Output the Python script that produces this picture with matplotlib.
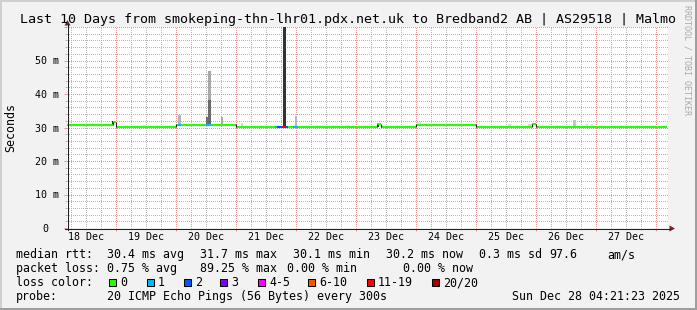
import numpy as np
import pandas as pd
import matplotlib
matplotlib.use("Agg")
import matplotlib.pyplot as plt
import matplotlib.dates as mdates
from matplotlib.ticker import MultipleLocator
from matplotlib.patches import Rectangle, Polygon
from matplotlib.lines import Line2D
from matplotlib.transforms import IdentityTransform

W, H = 697, 310
MONO = "DejaVu Sans Mono"

# rrdtool default colours
BACK = "#f2f2f2"
SHADE_A = "#cfcfcf"
SHADE_B = "#9e9e9e"
GRID = "#b8b8b8"
MGRID = "#eb9696"
ARROW = "#801f1f"
AXIS = "#1f1f1f"

title = "Last 10 Days from smokeping-thn-lhr01.pdx.net.uk to Bredband2 AB | AS29518 | Malmo"
t_start = "2025-12-18 04:21"
t_end = "2025-12-28 04:21"

# median rtt in ms, held from each time until the next one
median_times = ["2025-12-18 04:21", "2025-12-18 22:35", "2025-12-19 00:00",
                "2025-12-20 00:00", "2025-12-21 00:00", "2025-12-23 08:21",
                "2025-12-23 09:50", "2025-12-24 00:00", "2025-12-25 00:00",
                "2025-12-25 22:21", "2025-12-25 23:50"]
median_ms = [30.8, 31.6, 30.2, 30.8, 30.2, 30.9, 30.2, 30.8, 30.2, 30.9, 30.2]

loss_labels = ["0", "1", "2", "3", "4-5", "6-10", "11-19", "20/20"]
loss_colors = ["#26ff00", "#00b8ff", "#0059ff", "#7e00ff", "#ff00ff",
               "#ff5500", "#ff0000", "#a10000"]

# stretches of the median line with packet loss (index into loss_labels)
loss_from = ["2025-12-20 00:38", "2025-12-20 11:57", "2025-12-21 15:33",
             "2025-12-21 16:27", "2025-12-21 17:51", "2025-12-21 19:57",
             "2025-12-21 22:45"]
loss_to = ["2025-12-20 01:57", "2025-12-20 13:57", "2025-12-21 16:27",
           "2025-12-21 17:51", "2025-12-21 19:57", "2025-12-21 20:50",
           "2025-12-22 00:45"]
loss_idx = [1, 1, 1, 2, 6, 2, 1]

# smoke (spread of the 20 pings)
smoke_from = ["2025-12-18 14:14", "2025-12-18 22:15", "2025-12-19 10:39",
              "2025-12-20 00:38", "2025-12-20 11:57", "2025-12-20 12:45",
              "2025-12-20 12:45", "2025-12-20 17:51", "2025-12-21 01:51",
              "2025-12-21 18:39", "2025-12-21 23:39", "2025-12-22 19:57",
              "2025-12-23 08:21", "2025-12-24 00:21", "2025-12-25 01:51",
              "2025-12-25 12:45", "2025-12-25 20:45", "2025-12-25 22:21",
              "2025-12-26 14:45", "2025-12-26 19:57", "2025-12-26 21:51",
              "2025-12-27 01:51"]
smoke_to = ["2025-12-18 14:53", "2025-12-18 22:35", "2025-12-19 11:33",
            "2025-12-20 01:57", "2025-12-20 12:45", "2025-12-20 13:57",
            "2025-12-20 13:57", "2025-12-20 18:39", "2025-12-21 02:39",
            "2025-12-21 19:57", "2025-12-22 00:33", "2025-12-22 21:09",
            "2025-12-23 09:02", "2025-12-24 01:50", "2025-12-25 02:39",
            "2025-12-25 13:50", "2025-12-25 22:21", "2025-12-25 22:53",
            "2025-12-26 15:57", "2025-12-26 20:45", "2025-12-26 22:39",
            "2025-12-27 02:39"]
smoke_lo = [30.8, 30.8, 30.2, 30.8, 30.8, 30.8, 38.2, 30.8, 30.2, 30.2, 30.2,
            30.2, 30.2, 30.8, 30.2, 30.2, 30.2, 30.2, 30.2, 30.2, 30.2, 30.2]
smoke_hi = [31.2, 31.9, 30.7, 33.7, 33.2, 38.2, 46.9, 33.2, 31.4, 61.0, 33.4,
            30.6, 31.0, 31.5, 30.6, 30.9, 30.9, 31.0, 32.2, 30.9, 30.9, 30.6]
smoke_shade = ["#dcdcdc", "#303030", "#e0e0e0", "#b4b4b4", "#707070", "#6a6a6a",
               "#a8a8a8", "#a8a8a8", "#d4d4d4", "#333333", "#b8b8b8", "#e4e4e4",
               "#303030", "#e0e0e0", "#e8e8e8", "#d8d8d8", "#d8d8d8", "#303030",
               "#c4c4c4", "#e0e0e0", "#e0e0e0", "#e8e8e8"]

y_ticks = [0, 10, 20, 30, 40, 50]
y_tick_labels = ["0", "10 m", "20 m", "30 m", "40 m", "50 m"]
day_labels = ["18 Dec", "19 Dec", "20 Dec", "21 Dec", "22 Dec",
              "23 Dec", "24 Dec", "25 Dec", "26 Dec", "27 Dec"]

rtt_name = "median rtt:"
rtt_stats = ["30.4 ms avg", "31.7 ms max", "30.1 ms min", "30.2 ms now",
             "0.3 ms sd", "97.6", "am/s"]
loss_name = "packet loss:"
loss_stats = ["0.75 % avg", "89.25 % max", "0.00 % min", "0.00 % now"]
color_name = "loss color:"
probe_name = "probe:"
probe_text = "20 ICMP Echo Pings (56 Bytes) every 300s"
stamp = "Sun Dec 28 04:21:23 2025"
watermark = "RRDTOOL / TOBI OETIKER"

# layout (pixels from top-left)
rtt_cols = [107, 200, 293, 386, 479, 549, 607]
loss_cols = [107, 200, 287, 403]
box_cols = [108, 146, 183, 219, 257, 307, 366, 431]
PL, PR, PT, PB = 67, 667, 27, 228


def tnum(v):
    return mdates.date2num(pd.to_datetime(v))


def px(x, y):
    return x, H - y


fig = plt.figure(figsize=(W / 100, H / 100), dpi=100, facecolor=BACK)
ax = fig.add_axes([PL / W, (H - PB) / H, (PR + 1 - PL) / W, (PB - PT) / H])
ax.set_facecolor("white")
ax.set_xlim(tnum(t_start), tnum(t_end) + 1 / 60)
ax.set_ylim(0, 60)
for s in ax.spines.values():
    s.set_visible(False)

ax.xaxis.set_major_locator(mdates.DayLocator())
ax.xaxis.set_minor_locator(mdates.HourLocator(byhour=[6, 12, 18]))
ax.yaxis.set_major_locator(MultipleLocator(10))
ax.yaxis.set_minor_locator(MultipleLocator(2))
ax.tick_params(which="both", labelbottom=False, labelleft=False, direction="out")
ax.tick_params(which="major", length=2.2, width=0.72, color=MGRID)
ax.tick_params(which="minor", length=1.5, width=0.72, color=GRID)
ax.set_axisbelow(True)
# 1px on / 1px off dots, offset so dashes land on whole pixels
ax.grid(which="major", color=MGRID, lw=0.72, ls=(0.5, (1, 1)))
ax.grid(which="minor", color=GRID, lw=0.72, ls=(0.5, (1, 1)))

# smoke
sx0 = tnum(smoke_from)
sx1 = tnum(smoke_to)
ax.bar(sx0, np.array(smoke_hi) - np.array(smoke_lo), width=sx1 - sx0,
       bottom=smoke_lo, align="edge", color=smoke_shade, linewidth=0, zorder=2)

# median line
mx = tnum(median_times)
mx_end = np.append(mx[1:], tnum(t_end))
ax.hlines(median_ms, mx, mx_end, color=loss_colors[0], lw=1.5, zorder=3)
for i in range(1, len(mx)):
    lo, hi = sorted((median_ms[i - 1], median_ms[i]))
    ax.vlines(mx[i], lo - 0.15, hi + 0.15, color="#202020", lw=0.8, zorder=4)

lx0 = tnum(loss_from)
lx1 = tnum(loss_to)
for a, b, k in zip(lx0, lx1, loss_idx):
    j = np.searchsorted(mx, (a + b) / 2, side="right") - 1
    ax.hlines(median_ms[j], a, b, color=loss_colors[k], lw=1.5, zorder=4)

# tick labels
for v, lab in zip(y_ticks, y_tick_labels):
    xr = -(PL - 59) / (PR - PL) if lab != "0" else -(PL - 48) / (PR - PL)
    ax.text(xr, v, lab, transform=ax.get_yaxis_transform(), ha="right",
            va="center_baseline", fontsize=7.2, family=MONO, clip_on=False)
noons = pd.date_range("2025-12-18 12:00", periods=len(day_labels), freq="D")
for d, lab in zip(tnum(noons), day_labels):
    ax.text(d, (PB - 240.5) / (PB - PT), lab, transform=ax.get_xaxis_transform(),
            ha="center", va="baseline", fontsize=7.2, family=MONO, clip_on=False)

# axes with arrows
idt = IdentityTransform()
fig.add_artist(Line2D(*zip(px(PL - 2, PB + 0.5), px(670, PB + 0.5)), color=AXIS,
                      lw=0.75, transform=idt))
fig.add_artist(Line2D(*zip(px(PL + 0.5, PB + 2), px(PL + 0.5, 24)), color=AXIS,
                      lw=0.75, transform=idt))
fig.add_artist(Polygon([px(675, PB + 0.5), px(669.5, PB - 2.5), px(669.5, PB + 3.5)],
                       closed=True, color=ARROW, lw=0, transform=idt))
fig.add_artist(Polygon([px(PL + 0.5, 20), px(PL - 2.5, 25.5), px(PL + 3.5, 25.5)],
                       closed=True, color=ARROW, lw=0, transform=idt))

# frame shading
fig.add_artist(Rectangle(px(0, 2), W, 2, color=SHADE_A, lw=0, transform=idt))
fig.add_artist(Rectangle(px(0, H), 2, H, color=SHADE_A, lw=0, transform=idt))
fig.add_artist(Rectangle(px(0, H), W, 2, color=SHADE_B, lw=0, transform=idt))
fig.add_artist(Rectangle(px(W - 2, H), 2, H, color=SHADE_B, lw=0, transform=idt))

# texts
fig.text(347.5 / W, 1 - 23.5 / H, title, ha="center", va="baseline",
         fontsize=9.6, family=MONO)
fig.text(11 / W, 1 - 127 / H, "Seconds", rotation=90, ha="center", va="center",
         fontsize=8.4, family=MONO)
fig.text(686.5 / W, 1 - 60 / H, watermark, rotation=-90, ha="center", va="center",
         fontsize=6.0, family=MONO, color="#aaaaaa")

rows = [258.3, 272.3, 286.3, 300.3]
fig.text(16 / W, 1 - rows[0] / H, rtt_name, fontsize=8.4, family=MONO)
for x, s in zip(rtt_cols, rtt_stats):
    fig.text(x / W, 1 - rows[0] / H, s, fontsize=8.4, family=MONO)
fig.text(16 / W, 1 - rows[1] / H, loss_name, fontsize=8.4, family=MONO)
for x, s in zip(loss_cols, loss_stats):
    fig.text(x / W, 1 - rows[1] / H, s, fontsize=8.4, family=MONO)
fig.text(16 / W, 1 - rows[2] / H, color_name, fontsize=8.4, family=MONO)
for x, lab, c in zip(box_cols, loss_labels, loss_colors):
    fig.add_artist(Rectangle(px(x + 0.5, rows[2] - 0.5), 7, 7, facecolor=c,
                             edgecolor="black", lw=0.75, transform=idt))
    fig.text((x + 12) / W, 1 - rows[2] / H, lab, fontsize=8.4, family=MONO)
fig.text(16 / W, 1 - rows[3] / H, probe_name, fontsize=8.4, family=MONO)
fig.text(107 / W, 1 - rows[3] / H, probe_text, fontsize=8.4, family=MONO)
fig.text(680 / W, 1 - rows[3] / H, stamp, ha="right", fontsize=8.4, family=MONO)

fig.savefig("out.png", dpi=100, facecolor=BACK)
